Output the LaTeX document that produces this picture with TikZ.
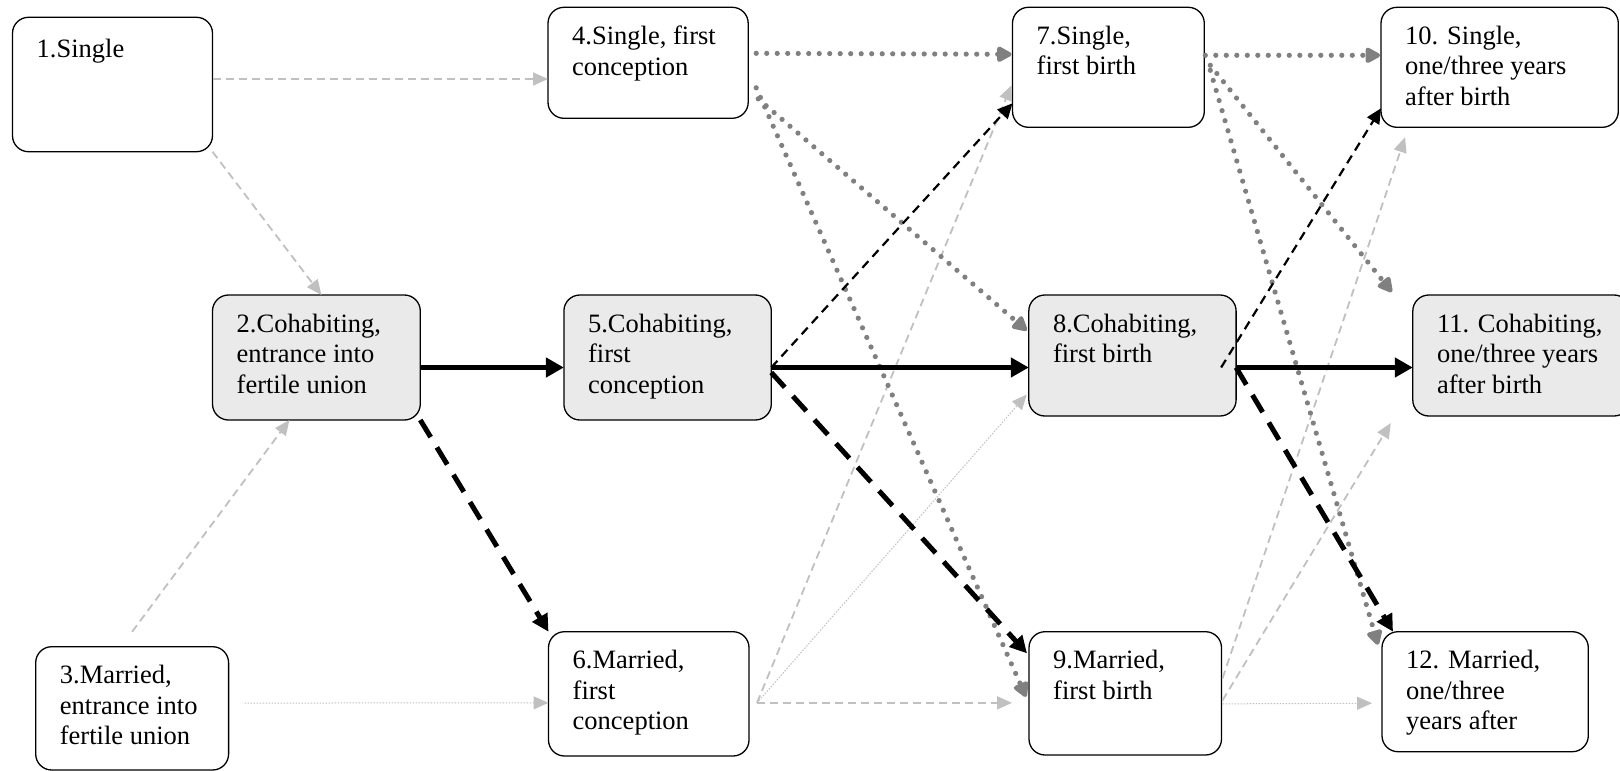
\documentclass[tikz,border=0pt]{standalone}
\usepackage{fontspec}
\setmainfont{Liberation Serif}
\usetikzlibrary{arrows.meta}
\definecolor{boxgray}{RGB}{234,234,234}
\definecolor{lgray}{RGB}{192,192,192}
\definecolor{llgray}{RGB}{205,205,205}
\definecolor{mgray}{RGB}{128,128,128}
\newcommand{\stateBox}[7]{%
  \pgfmathsetmacro{\sbcx}{(#2+#4)/2}\pgfmathsetmacro{\sbcy}{(#3+#5)/2}%
  \pgfmathsetmacro{\sbw}{#4-#2}\pgfmathsetmacro{\sbh}{#5-#3}%
  \node[#6, minimum width=\sbw pt, minimum height=\sbh pt] (#1) at (\sbcx,\sbcy) {};
  \node[lbl] (#1t) at ([xshift=24pt,yshift=-18.6pt]#1.north west) {#7};}
\begin{document}
\begin{tikzpicture}[x=1pt,y=-1pt,
  whitebox/.style={draw=black, line width=1.3pt, rounded corners=16pt, fill=white, inner sep=0pt, outer sep=0pt},
  graybox/.style={whitebox, fill=boxgray},
  lbl/.style={anchor=north west, inner sep=0pt, align=left, font=\fontsize{26.5}{30.5}\selectfont, execute at begin node=\strut},
  lightdash/.style={draw=lgray, line width=1.8pt, dash pattern=on 8pt off 5pt, -{Triangle[length=15pt,width=13pt]}, lgray},
  lightdot/.style={draw=llgray, line width=1pt, dash pattern=on 1.5pt off 1.5pt, -{Triangle[length=15pt,width=13pt,fill=lgray]}, lgray},
  gdot/.style={draw=mgray, line width=5.2pt, line cap=round, dash pattern=on 0pt off 10.5pt, -{Triangle[length=17pt,width=17pt,round]}, mgray},
  bsolid/.style={draw=black, line width=5pt, -{Triangle[length=18pt,width=19pt]}},
  bdash/.style={draw=black, line width=5pt, dash pattern=on 20pt off 12pt, -{Triangle[length=17pt,width=17pt]}},
  bthin/.style={draw=black, line width=2.2pt, dash pattern=on 9pt off 6pt, -{Triangle[length=15pt,width=14pt]}}
]
\useasboundingbox (0,0) rectangle (1620,771);
\clip (0,0) rectangle (1620,771);
% boxes
\stateBox{n1}{12.5}{17.3}{212.5}{151.7}{whitebox}{1.Single}
\stateBox{n4}{548}{7.3}{748.2}{118.3}{whitebox}{4.Single, first\\conception}
\stateBox{n7}{1012.5}{7.3}{1204.3}{127.3}{whitebox}{7.Single,\\first birth}
\stateBox{n10}{1381}{7.3}{1618.3}{127.3}{whitebox}{10. Single,\\one/three years\\after birth}
\stateBox{n2}{212.5}{295}{420.3}{420}{graybox}{2.Cohabiting,\\entrance into\\fertile union}
\stateBox{n5}{563.9}{295}{771.3}{420}{graybox}{5.Cohabiting,\\first\\conception}
\stateBox{n8}{1028.8}{295}{1236.1}{416}{graybox}{8.Cohabiting,\\first birth}
\stateBox{n11}{1412.8}{295}{1630}{416}{graybox}{11. Cohabiting,\\one/three years\\after birth}
\stateBox{n3}{35.7}{646.7}{228.6}{770}{whitebox}{3.Married,\\entrance into\\fertile union}
\stateBox{n6}{548.5}{631.7}{749}{756}{whitebox}{6.Married,\\first\\conception}
\stateBox{n9}{1029}{631.7}{1221.5}{755}{whitebox}{9.Married,\\first birth}
\stateBox{n12}{1382}{631.7}{1588.3}{751.7}{whitebox}{12. Married,\\one/three\\years after}
% light connectors
\draw[lightdash] ([yshift=5.5pt]n1.east) -- ([yshift=-16.2pt]n4.west);
\draw[lightdash] (n1.south east) -- ([xshift=5pt]n2.north);
\draw[lightdash] ([yshift=15pt]n3.north) -- ([xshift=-27pt]n2.south);
\draw[lightdot] ([xshift=16pt,yshift=5.3pt]n3.east) -- ([yshift=-9pt]n6.west);
\draw[lightdash] ([xshift=8pt,yshift=-9pt]n6.east) -- ([xshift=-1pt,yshift=-18pt]n7.west);
\draw[lightdot] ([xshift=8pt,yshift=-9pt]n6.east) -- ([xshift=-2pt,yshift=-39pt]n8.west);
\draw[lightdash] ([xshift=8pt,yshift=-9pt]n6.east) -- ([xshift=-17pt,yshift=-9.5pt]n9.west);
\draw[lightdash] ([xshift=1pt,yshift=15pt]n9.east) -- ([xshift=24pt,yshift=-10pt]n10.south west);
\draw[lightdash] ([xshift=1pt,yshift=-7pt]n9.east) -- ([xshift=-22pt,yshift=-7pt]n11.south west);
\draw[lightdot] ([xshift=1pt,yshift=-10.5pt]n9.east) -- ([xshift=-10pt,yshift=-11.5pt]n12.west);
% gray dotted connectors
\draw[gdot] ([xshift=8pt,yshift=9.5pt]n4.east) -- ([xshift=-1pt,yshift=13pt]n7.west);
\draw[gdot] ([xshift=10pt,yshift=-36pt]n4.east) -- ([xshift=-2pt,yshift=25pt]n8.west);
\draw[gdot] ([xshift=8pt,yshift=-25pt]n4.east) -- ([xshift=-3pt,yshift=-3.5pt]n9.west);
\draw[gdot] ([xshift=1pt,yshift=12pt]n7.east) -- ([xshift=-1pt,yshift=12pt]n10.west);
\draw[gdot] ([xshift=6pt,yshift=2pt]n7.east) -- ([xshift=-21pt,yshift=3pt]n11.north west);
\draw[gdot] ([xshift=6pt,yshift=-3pt]n7.east) -- ([xshift=-4pt,yshift=-13pt]n12.north west);
% black connectors
\draw[bsolid] ([yshift=-10pt]n2.east) -- ([yshift=-10pt]n5.west);
\draw[bsolid] ([yshift=-10pt]n5.east) -- ([yshift=-12pt]n8.west);
\draw[bsolid] ([yshift=-12pt]n8.east) -- ([yshift=-12pt]n11.west);
\draw[bdash] (n2.south east) -- (n6.north west);
\draw[bdash] ([yshift=-15pt]n5.east) -- ([xshift=-2pt,yshift=40pt]n9.west);
\draw[bdash] ([yshift=-12pt]n8.east) -- ([xshift=11pt]n12.north west);
\draw[bthin] ([yshift=-10pt]n5.east) -- ([yshift=-36pt]n7.west);
\draw[bthin] ([xshift=-15pt,yshift=-12pt]n8.east) -- ([yshift=-41pt]n10.west);
\end{tikzpicture}
\end{document}
